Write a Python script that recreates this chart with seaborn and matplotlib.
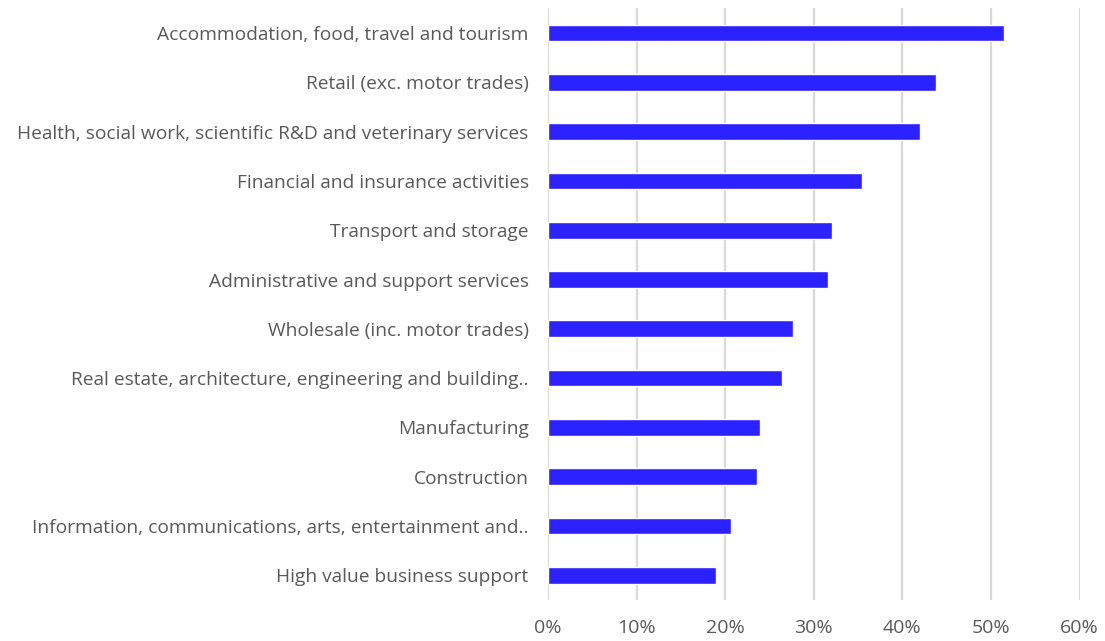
import matplotlib
matplotlib.use("Agg")
import matplotlib.pyplot as plt
import seaborn as sns
import pandas as pd
from matplotlib.ticker import FuncFormatter

sectors = [
    "Accommodation, food, travel and tourism",
    "Retail (exc. motor trades)",
    "Health, social work, scientific R&D and veterinary services",
    "Financial and insurance activities",
    "Transport and storage",
    "Administrative and support services",
    "Wholesale (inc. motor trades)",
    "Real estate, architecture, engineering and building..",
    "Manufacturing",
    "Construction",
    "Information, communications, arts, entertainment and..",
    "High value business support",
]
shares = [0.515, 0.438, 0.420, 0.354, 0.321, 0.316, 0.277, 0.264, 0.239, 0.236, 0.207, 0.189]
x_ticks = [0.0, 0.1, 0.2, 0.3, 0.4, 0.5, 0.6]

df = pd.DataFrame({"sector": sectors, "share": shares})

sns.set_theme(style="white")
plt.rcParams["font.family"] = ["Open Sans", "DejaVu Sans"]

fig = plt.figure(figsize=(11.05, 6.41), dpi=100)
ax = fig.add_axes([0.496, 0.064, 0.481, 0.923])

sns.barplot(data=df, x="share", y="sector", orient="h", color="#2C22FF",
            width=0.34, saturation=1, ax=ax, zorder=3)

ax.set_xlim(x_ticks[0], x_ticks[-1])
ax.set_xticks(x_ticks)
ax.xaxis.set_major_formatter(FuncFormatter(lambda v, _: f"{v * 100:.0f}%"))
ax.grid(axis="x", color="#d9d9d9", linewidth=1.6, zorder=0)
ax.grid(axis="y", visible=False)
for s in ax.spines.values():
    s.set_visible(False)

ax.set_xlabel("")
ax.set_ylabel("")
ax.tick_params(axis="y", length=0, pad=14, labelsize=13.8, labelcolor="#595959")
ax.tick_params(axis="x", length=0, pad=14, labelsize=14, labelcolor="#595959")

fig.savefig("out.png", dpi=100, facecolor="white")
